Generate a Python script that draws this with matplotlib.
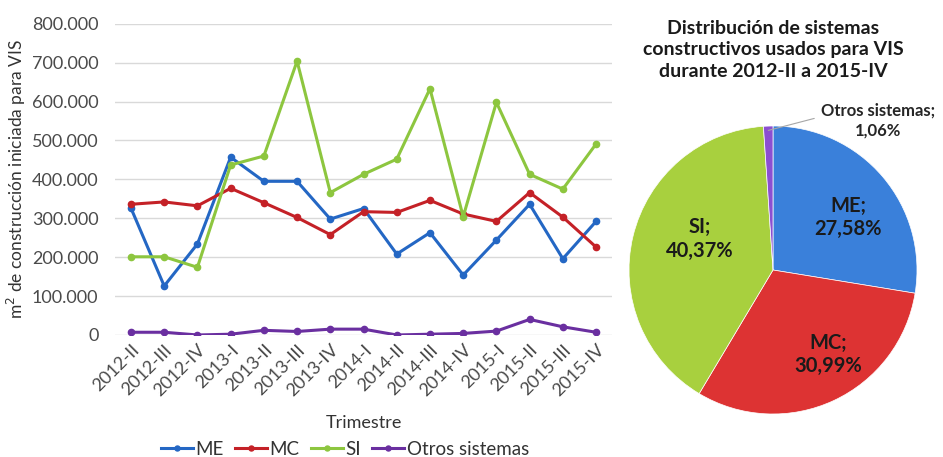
import matplotlib
matplotlib.use("Agg")
import matplotlib.pyplot as plt
from matplotlib.ticker import FuncFormatter
import math

plt.rcParams['font.family'] = ['Lato', 'DejaVu Sans']

trimestres = ["2012-II", "2012-III", "2012-IV", "2013-I", "2013-II", "2013-III", "2013-IV",
              "2014-I", "2014-II", "2014-III", "2014-IV", "2015-I", "2015-II", "2015-III", "2015-IV"]
me = [326000, 126000, 234000, 457000, 395000, 395000, 298000, 325000, 208000, 263000,
      154000, 244000, 336000, 196000, 292000]
mc = [336000, 342000, 332000, 377000, 340000, 302000, 258000, 317000, 315000, 346000,
      311000, 292000, 366000, 303000, 226000]
si = [201000, 201000, 174000, 437000, 460000, 704000, 366000, 413000, 452000, 633000,
      304000, 598000, 413000, 375000, 491000]
otros = [7000, 7000, 0, 2000, 12000, 9000, 15000, 15000, 0, 2000, 4000, 10000, 40000, 21000, 7000]

pie_labels = ["ME", "MC", "SI", "Otros sistemas"]
pie_values = [27.58, 30.99, 40.37, 1.06]

line_colors = ["#2467c4", "#c42127", "#8dc63f", "#6a2fa0"]
pie_colors = ["#3a80da", "#dd3333", "#a8d03e", "#8b4fd1"]
txt = "#4a4a4a"

fig = plt.figure(figsize=(9.43, 4.57), dpi=100)

# ---- line chart ----
ax = fig.add_axes([0.122, 0.267, 0.527, 0.681])
x = list(range(len(trimestres)))
for vals, name, c in zip([me, mc, si, otros], pie_labels, line_colors):
    ax.plot(x, vals, color=c, lw=2.2, marker='o', ms=4.5, label=name)
ax.set_ylim(0, 800000)
ax.set_xlim(-0.48, len(trimestres) - 0.52)
ax.set_yticks(range(0, 800001, 100000))
ax.yaxis.set_major_formatter(FuncFormatter(lambda v, p: f"{int(v):,}".replace(",", ".")))
ax.set_xticks(x)
ax.set_xticklabels(trimestres, rotation=45, ha='right', rotation_mode='anchor')
ax.grid(axis='y', color='#d9d9d9', lw=1)
ax.set_axisbelow(True)
for s in ax.spines.values():
    s.set_visible(False)
ax.tick_params(axis='both', length=0, colors=txt)
ax.tick_params(axis='y', labelsize=13, pad=12)
ax.tick_params(axis='x', labelsize=13, pad=5)
ax.set_ylabel("m$^2$ de construcción iniciada para VIS", fontsize=12.5, color='#333333', labelpad=3)
ax.set_xlabel("Trimestre", fontsize=13, color='#333333', labelpad=11)

fig.legend(loc='center', bbox_to_anchor=(345 / 943, 7.5 / 457), ncol=4, frameon=False,
           fontsize=13.5, handlelength=1.7, columnspacing=0.6, handletextpad=0.15,
           markerscale=0.8, labelcolor='#333333', borderaxespad=0)

# ---- pie chart ----
pax = fig.add_axes([(773 - 144) / 943, (457 - 414) / 457, 288 / 943, 288 / 457])
wedges, texts = pax.pie(pie_values, colors=pie_colors, startangle=90, counterclock=False,
                        wedgeprops=dict(edgecolor='white', linewidth=0.5), radius=1.0)
pax.set_xlim(-1, 1)
pax.set_ylim(-1, 1)
pax.set_aspect('equal')

label_pos = {"ME": (0.64, 35), "MC": (0.70, -57), "SI": (0.55, 157)}
for w, name, v in zip(wedges, pie_labels, pie_values):
    s = f"{v:.2f}".replace(".", ",") + "%"
    if name in label_pos:
        r, ang = label_pos[name]
        pax.text(r * math.cos(math.radians(ang)), r * math.sin(math.radians(ang)),
                 f"{name};\n{s}", ha='center', va='center', fontsize=14.5,
                 fontweight='bold', color='#1a1a1a', linespacing=1.2)
    else:
        mid = math.radians((w.theta1 + w.theta2) / 2)
        pax.annotate(f"{name};\n{s}", xy=(0.97 * math.cos(mid), 0.97 * math.sin(mid)),
                     xytext=(0.73, 1.04), ha='center', va='center', fontsize=12,
                     fontweight='bold', color='#262626', annotation_clip=False,
                     linespacing=1.3,
                     arrowprops=dict(arrowstyle='-', color='#a6a6a6', lw=0.8,
                                     shrinkA=3, shrinkB=0, relpos=(0.0, 0.6)))

fig.text(773 / 943, (457 - 50) / 457,
         "Distribución de sistemas\nconstructivos usados para VIS\ndurante 2012-II a 2015-IV",
         ha='center', va='center', fontsize=14, fontweight='bold', color='#1a1a1a',
         linespacing=1.3)

fig.savefig("out.png", dpi=100)
